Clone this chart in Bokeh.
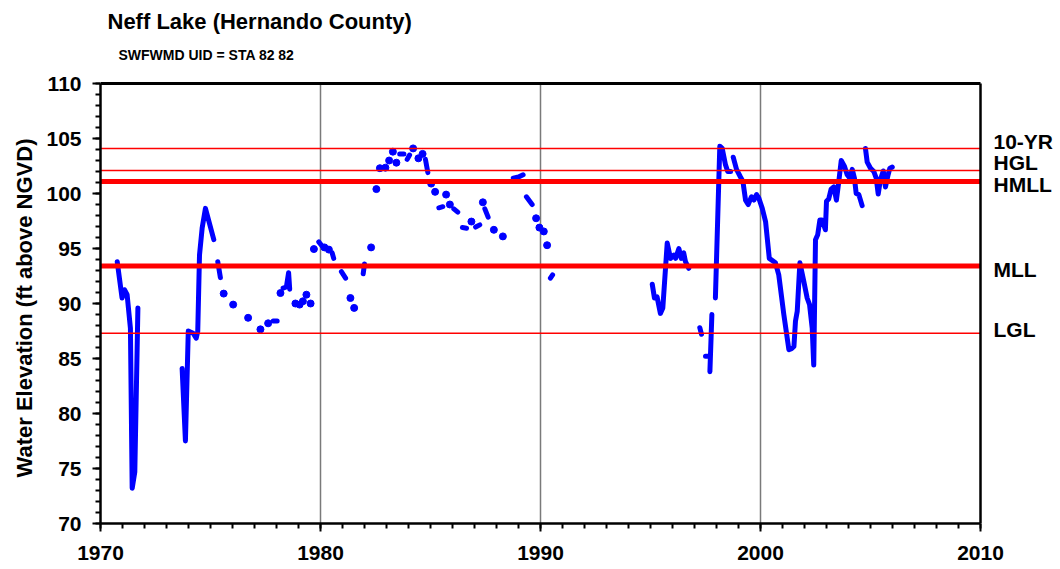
import math
from bokeh.plotting import figure
from bokeh.models import Range1d, SingleIntervalTicker, Label, Title, ColumnDataSource
from bokeh.embed import file_html
from bokeh.resources import INLINE

NaN = float("nan")

title_text = "Neff Lake (Hernando County)"
subtitle_text = "SWFWMD UID = STA 82 82"
y_title = "Water Elevation (ft above NGVD)"

x_start, x_end = 1970, 2010
y_start, y_end = 70, 110

# Water level record (decimal year, ft NGVD); NaN marks a gap in the record
years = [
    1970.76, 1970.98, 1971.09, 1971.21, 1971.36, 1971.44, 1971.56, 1971.70, NaN,
    1973.71, 1973.86, 1973.99, 1974.21, 1974.35, 1974.42, 1974.50, 1974.62, 1974.77, 1975.15, NaN,
    1975.33, 1975.45, NaN, 1975.60, NaN, 1976.03, NaN, 1976.71, NaN, 1977.27, NaN, 1977.62, NaN,
    1977.85, 1978.03, NaN, 1978.18, NaN, 1978.30, 1978.45, 1978.55, 1978.60, NaN,
    1978.86, NaN, 1979.05, NaN, 1979.20, NaN, 1979.36, NaN, 1979.55, NaN, 1979.70, NaN,
    1979.92, 1980.08, NaN, 1980.18, NaN, 1980.38, NaN, 1980.53, 1980.60, NaN,
    1980.95, 1981.14, NaN, 1981.36, NaN, 1981.53, NaN, 1981.94, 1982.00, NaN,
    1982.30, NaN, 1982.54, NaN, 1982.70, NaN, 1982.95, NaN, 1983.12, NaN, 1983.29, NaN, 1983.45, NaN,
    1983.60, 1983.79, NaN, 1983.94, 1984.05, NaN, 1984.21, NaN, 1984.45, NaN, 1984.64, NaN,
    1984.77, 1984.88, NaN, 1985.03, NaN, 1985.21, NaN, 1985.38, 1985.56, NaN,
    1985.71, NaN, 1985.88, NaN, 1986.06, 1986.24, NaN, 1986.45, 1986.64, NaN, 1986.86, NaN,
    1987.05, 1987.24, NaN, 1987.38, NaN, 1987.47, 1987.62, NaN, 1987.88, NaN, 1988.29, NaN,
    1988.76, 1989.00, 1989.21, NaN, 1989.36, 1989.62, NaN, 1989.80, NaN, 1989.95, NaN,
    1990.15, NaN, 1990.30, NaN, 1990.45, 1990.55, NaN,
    1995.08, 1995.18, 1995.30, 1995.45, 1995.56, 1995.76, 1995.91, 1996.06, 1996.14, 1996.29,
    1996.40, 1996.51, 1996.59, 1996.74, NaN,
    1997.24, 1997.32, NaN, 1997.50, 1997.60, NaN, 1997.70, 1997.79, NaN,
    1997.95, 1998.15, 1998.26, 1998.41, 1998.51, 1998.64, NaN,
    1998.76, 1998.91, 1999.09, 1999.20, 1999.32, 1999.44, 1999.59, 1999.70, 1999.82, 1999.92,
    2000.08, 2000.23, 2000.40, 2000.68, 2000.83, 2001.06, 2001.29, 2001.41, 2001.52, 2001.59,
    2001.67, 2001.79, 2001.97, 2002.12, 2002.23, 2002.35, 2002.42, 2002.50, 2002.60, 2002.70,
    2002.80, 2002.95, 2003.00, 2003.10, 2003.21, 2003.33, 2003.45, 2003.56, 2003.67, 2003.82,
    2003.94, 2004.06, 2004.17, 2004.27, 2004.35, 2004.47, 2004.62, NaN,
    2004.77, 2004.85, 2005.00, 2005.15, 2005.26, 2005.35, 2005.45, 2005.58, 2005.68, 2005.80,
    2005.88, 2005.99,
]
levels = [
    93.8, 90.5, 91.25, 90.8, 87.75, 73.2, 74.7, 89.6, NaN,
    84.1, 77.5, 87.5, 87.3, 86.85, 87.45, 94.4, 96.85, 98.65, 95.8, NaN,
    93.8, 92.35, NaN, 90.9, NaN, 89.9, NaN, 88.7, NaN, 87.65, NaN, 88.2, NaN,
    88.4, 88.4, NaN, 90.95, NaN, 91.4, 91.5, 92.8, 91.3, NaN,
    90.0, NaN, 89.9, NaN, 90.2, NaN, 90.8, NaN, 90.0, NaN, 94.95, NaN,
    95.6, 95.2, NaN, 95.1, NaN, 94.9, NaN, 94.6, 94.1, NaN,
    92.9, 92.3, NaN, 90.5, NaN, 89.6, NaN, 92.7, 93.6, NaN,
    95.1, NaN, 100.4, NaN, 102.3, NaN, 102.35, NaN, 103.0, NaN, 103.8, NaN, 102.8, NaN,
    103.6, 103.6, NaN, 103.1, 103.5, NaN, 104.1, NaN, 103.2, NaN, 103.6, NaN,
    103.1, 101.9, NaN, 100.9, NaN, 100.15, NaN, 98.7, 98.8, NaN,
    99.9, NaN, 99.0, NaN, 98.6, 98.3, NaN, 96.9, 96.85, NaN, 97.45, NaN,
    96.95, 97.15, NaN, 99.2, NaN, 98.6, 97.85, NaN, 96.7, NaN, 96.1, NaN,
    101.4, 101.5, 101.7, NaN, 99.7, 99.0, NaN, 97.75, NaN, 96.9, NaN,
    96.55, NaN, 95.3, NaN, 92.3, 92.6, NaN,
    91.75, 90.5, 90.6, 89.1, 89.6, 95.5, 94.1, 94.4, 94.1, 95.0,
    94.1, 94.6, 93.8, 93.2, NaN,
    87.8, 87.2, NaN, 85.2, 85.2, NaN, 83.8, 89.0, NaN,
    90.5, 104.3, 104.1, 102.6, 102.0, 102.0, NaN,
    103.3, 102.2, 101.5, 101.1, 99.4, 99.0, 99.7, 99.4, 99.9, 99.6,
    98.65, 97.45, 94.1, 93.7, 92.6, 89.0, 85.8, 85.9, 86.1, 88.4,
    89.3, 93.7, 92.0, 90.5, 89.9, 87.75, 84.4, 95.8, 96.25, 97.6,
    97.6, 96.7, 99.3, 99.5, 100.4, 100.6, 99.4, 101.1, 103.0, 102.45,
    101.7, 101.4, 102.2, 101.4, 100.0, 99.9, 98.9, NaN,
    104.1, 102.85, 102.3, 102.0, 101.4, 99.95, 101.25, 102.05, 100.6, 101.7,
    102.3, 102.4,
]

# Regulatory reference levels
ref_names = ["10-YR", "HGL", "HMLL", "MLL", "LGL"]
ref_levels = [104.1, 102.1, 101.1, 93.4, 87.3]

# ---- styles / geometry ----
ref_widths = [1.5, 1.5, 5, 5, 1.5]
ref_label_dy = [7, 8, -3, -3, 4]   # pixel nudges of the right-hand labels
FONT = "Liberation Sans"
PX_PER_YEAR = 22.0
PX_PER_FT = 11.0
LEFT, BOTTOM = 100, 46
PLOT_TOP_PAD = 83     # pixels above the box (titles live here)
FRAME_W = 958         # box + room for the right-hand labels
FRAME_H = PLOT_TOP_PAD + 440

# the frame extends beyond the data box so the texts around it are not clipped
xr_end = x_start + FRAME_W / PX_PER_YEAR
yr_end = y_start + FRAME_H / PX_PER_FT

p = figure(
    frame_width=FRAME_W, frame_height=FRAME_H,
    x_range=Range1d(x_start, xr_end), y_range=Range1d(y_start, yr_end),
    output_backend="svg", toolbar_location=None,
    min_border_left=LEFT, min_border_right=0, min_border_top=0, min_border_bottom=BOTTOM,
)
p.background_fill_color = "white"
p.border_fill_color = "white"
p.outline_line_color = None

# axes
p.xaxis.ticker = SingleIntervalTicker(interval=10, num_minor_ticks=10)
p.yaxis.ticker = SingleIntervalTicker(interval=5, num_minor_ticks=5)
p.xaxis.bounds = (x_start, x_end)
p.yaxis.bounds = (y_start, y_end)
for ax in (p.xaxis, p.yaxis):
    ax.axis_line_color = "black"
    ax.axis_line_width = 2.5
    ax.major_tick_line_color = "black"
    ax.major_tick_line_width = 2
    ax.minor_tick_line_color = "black"
    ax.minor_tick_line_width = 2
    ax.major_tick_in = 0
    ax.major_tick_out = 8
    ax.minor_tick_in = 0
    ax.minor_tick_out = 5
    ax.major_label_text_font = FONT
    ax.major_label_text_font_style = "bold"
    ax.major_label_text_font_size = "21px"
    ax.major_label_text_color = "black"
p.xaxis.major_label_standoff = 14
p.yaxis.major_label_standoff = 11

# y-axis title, aligned with the 70-110 box rather than the whole frame
p.add_layout(Title(text=y_title, align="left", offset=46, standoff=13,
                   text_font=FONT, text_font_style="bold", text_font_size="22px",
                   text_color="black"), "left")

p.xgrid.grid_line_color = None
p.ygrid.grid_line_color = None

# vertical decade lines inside the box
decades = list(range(x_start + 10, x_end, 10))
p.segment(x0=decades, x1=decades, y0=[y_start] * len(decades), y1=[y_end] * len(decades),
          line_color="#7a7a7a", line_width=1.5, level="underlay")

# data
src = ColumnDataSource(dict(x=years, y=levels))
p.line("x", "y", source=src, line_color="#0000ff", line_width=5,
       line_join="round", line_cap="round")

iso_x, iso_y = [], []
for i, (xv, yv) in enumerate(zip(years, levels)):
    if math.isnan(xv):
        continue
    prev_gap = i == 0 or math.isnan(years[i - 1])
    next_gap = i == len(years) - 1 or math.isnan(years[i + 1])
    if prev_gap and next_gap:
        iso_x.append(xv)
        iso_y.append(yv)
p.scatter(iso_x, iso_y, size=7, marker="circle", fill_color="#0000ff", line_color="#0000ff")

# reference levels
n = len(ref_levels)
p.segment(x0=[x_start] * n, x1=[x_end] * n, y0=ref_levels, y1=ref_levels,
          line_color="#ff0000", line_width=ref_widths, line_cap="butt")
for name, lvl, dy in zip(ref_names, ref_levels, ref_label_dy):
    p.add_layout(Label(x=x_end, y=lvl, text=name, x_offset=13, y_offset=dy,
                       text_baseline="middle", text_align="left",
                       text_font=FONT, text_font_style="bold", text_font_size="21px",
                       text_color="black"))

# box: top and right edges
p.segment(x0=[x_start], x1=[x_end], y0=[y_end], y1=[y_end], line_color="black", line_width=3)
p.segment(x0=[x_end], x1=[x_end], y0=[y_start], y1=[y_end], line_color="black", line_width=2.5)

# titles
p.add_layout(Label(x=x_start, y=y_end, text=title_text, x_offset=7, y_offset=62,
                   text_baseline="middle", text_align="left", text_font=FONT,
                   text_font_style="bold", text_font_size="22px", text_color="black"))
p.add_layout(Label(x=x_start, y=y_end, text=subtitle_text, x_offset=18, y_offset=29,
                   text_baseline="middle", text_align="left", text_font=FONT,
                   text_font_style="bold", text_font_size="14px", text_color="black"))

open("out.html", "w").write(file_html(p, INLINE))
